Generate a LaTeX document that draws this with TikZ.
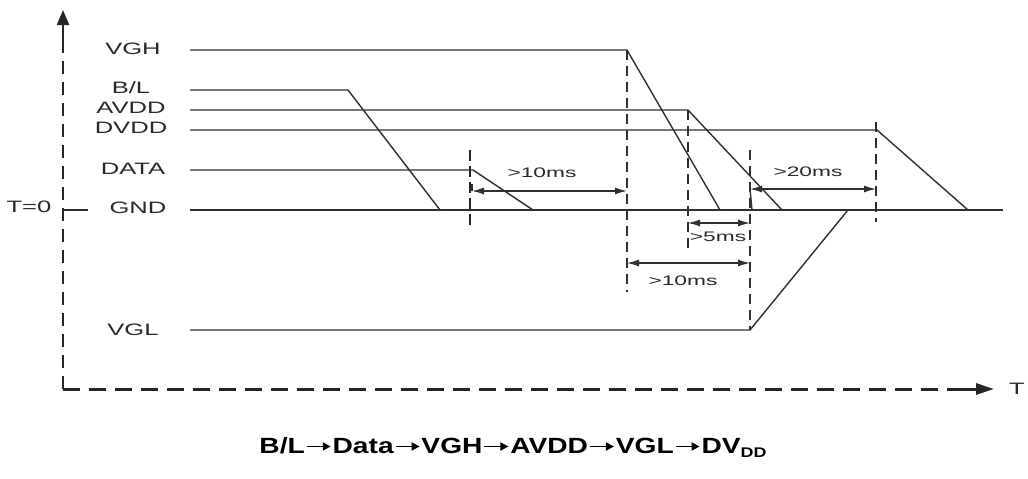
\documentclass[tikz,border=0pt]{standalone}
\usepackage{fontspec}
\setmainfont{Liberation Sans}
\newfontfamily\lblfont[FakeStretch=1.55]{Liberation Sans}
\newfontfamily\msfont[FakeStretch=1.65]{Liberation Sans}
\newfontfamily\btmfont[FakeStretch=1.28]{Liberation Sans}
\usetikzlibrary{arrows.meta}
\definecolor{ink}{HTML}{303030}
\definecolor{txt}{HTML}{2A2A2A}
\newcommand{\seqarrow}{\kern1pt\tikz[baseline=0pt,x=1pt,y=1pt]{\draw[line width=1.8pt,-{Triangle[length=8pt,width=8pt]}] (0,6.5) -- (24,6.5);}\kern1pt}
\begin{document}
\begin{tikzpicture}[x=1pt,y=-1pt,
  sig/.style={draw=ink, line width=1.4pt, line join=miter},
  guide/.style={draw=ink, line width=1.6pt, dash pattern=on 10pt off 6pt},
  thickguide/.style={draw=black!85, line width=2.6pt, dash pattern=on 11pt off 5pt},
  dim/.style={draw=ink, line width=1.2pt, {Latex[length=12pt,width=7pt]}-{Latex[length=12pt,width=7pt]}},
  lab/.style={font=\lblfont\fontsize{16.5}{18}\selectfont, text=txt, inner sep=0pt},
  ms/.style={font=\msfont\fontsize{13.8}{15}\selectfont, text=txt, inner sep=0pt},
  axisv/.style={draw=black!85, line width=2.2pt, dash pattern=on 13pt off 8pt},
  axish/.style={draw=black!85, line width=3pt, dash pattern=on 17pt off 9pt},
  tip/.style={draw=black!85, line width=2.2pt, -{Triangle[length=15pt,width=12pt]}}
]
\useasboundingbox[fill=white] (0,0) rectangle (1028,479);

% axes
\coordinate (O) at (63,389);
\coordinate (ytop) at (63,40);
\coordinate (yend) at (63,10);
\coordinate (xend) at (960,389);
\coordinate (xtip) at (994,389);
\draw[axisv] (O) -- (ytop);
\draw[tip] (ytop) -- (yend);
\draw[axish] (O) -- (xend);
\draw[tip, line width=3pt, -{Triangle[length=18pt,width=11pt]}] (xend) -- (xtip);
\node[lab] (Tlab) at (1017,389) {T};
\coordinate (t0a) at (63,210);
\coordinate (t0b) at (88,210);
\draw[sig] (t0a) -- (t0b);
\node[lab] (T0) at (29,207) {T=0};

% signal labels
\node[lab] (lVGH)  at (133,49)  {VGH};
\node[lab] (lBL)   at (131,88)  {B/L};
\node[lab] (lAVDD) at (131,108) {AVDD};
\node[lab] (lDVDD) at (131,128) {DVDD};
\node[lab] (lDATA) at (133,169) {DATA};
\node[lab] (lGND)  at (138,208) {GND};
\node[lab] (lVGL)  at (133,330) {VGL};

% signal waveforms
\coordinate (vgh0) at (190,50);  \coordinate (vgh1) at (627,50);  \coordinate (vgh2) at (720,210);
\coordinate (bl0) at (190,90);   \coordinate (bl1) at (348,90);   \coordinate (bl2) at (440,210);
\coordinate (av0) at (190,110);  \coordinate (av1) at (688,110);  \coordinate (av2) at (782,210);
\coordinate (dv0) at (190,130);  \coordinate (dv1) at (877,130);  \coordinate (dv2) at (968,210);
\coordinate (da0) at (190,170);  \coordinate (da1) at (473,170);  \coordinate (da2) at (533,210);
\coordinate (gn0) at (190,210);  \coordinate (gn1) at (1003,210);
\coordinate (vl0) at (190,330);  \coordinate (vl1) at (750,330);  \coordinate (vl2) at (848,210);
\draw[sig] (vgh0) -- (vgh1) -- (vgh2);
\draw[sig] (bl0) -- (bl1) -- (bl2);
\draw[sig] (av0) -- (av1) -- (av2);
\draw[sig] (dv0) -- (dv1) -- (dv2);
\draw[sig] (da0) -- (da1) -- (da2);
\draw[sig] (gn0) -- (gn1);
\draw[sig] (vl0) -- (vl1) -- (vl2);

% dashed guides
\coordinate (g1a) at (470,150); \coordinate (g1b) at (470,228);
\coordinate (g2b) at (627,292);
\coordinate (g3b) at (688,252);
\coordinate (g4a) at (750,150);
\coordinate (g5a) at (876,122); \coordinate (g5b) at (876,222);
\draw[thickguide] (g1a) -- (g1b);
\draw[guide] (vgh1) -- (g2b);
\draw[guide] (av1) -- (g3b);
\draw[guide] (g4a) -- (vl1);
\draw[guide] (g5a) -- (g5b);

% dimensions
\coordinate (d1a) at (472,191); \coordinate (d1b) at (627,191);
\coordinate (d2a) at (750,189); \coordinate (d2b) at (876,189);
\coordinate (d3a) at (688,223); \coordinate (d3b) at (750,223);
\coordinate (d4a) at (627,263); \coordinate (d4b) at (750,263);
\draw[dim] (d1a) -- (d1b);
\draw[dim] (d2a) -- (d2b);
\draw[dim] (d3a) -- (d3b);
\draw[dim] (d4a) -- (d4b);
\coordinate (k1a) at (472,184);
\draw[sig] (k1a) -- (d1a);
\coordinate (k2b) at (752,210);
\draw[sig] (d2a) -- (k2b);
\node[ms] (m1) at (542,173) {>10ms};
\node[ms] (m2) at (808,172) {>20ms};
\node[ms] (m3) at (718,237) {>5ms};
\node[ms] (m4) at (683,281) {>10ms};

% sequence
\node[font=\btmfont\bfseries\fontsize{22}{24}\selectfont, text=black, inner sep=0pt, anchor=base] (seq) at (513,453)
  {B/L\seqarrow Data\seqarrow VGH\seqarrow AVDD\seqarrow VGL\seqarrow DV\raisebox{-4pt}{\fontsize{14}{14}\selectfont DD}};
\end{tikzpicture}
\end{document}
